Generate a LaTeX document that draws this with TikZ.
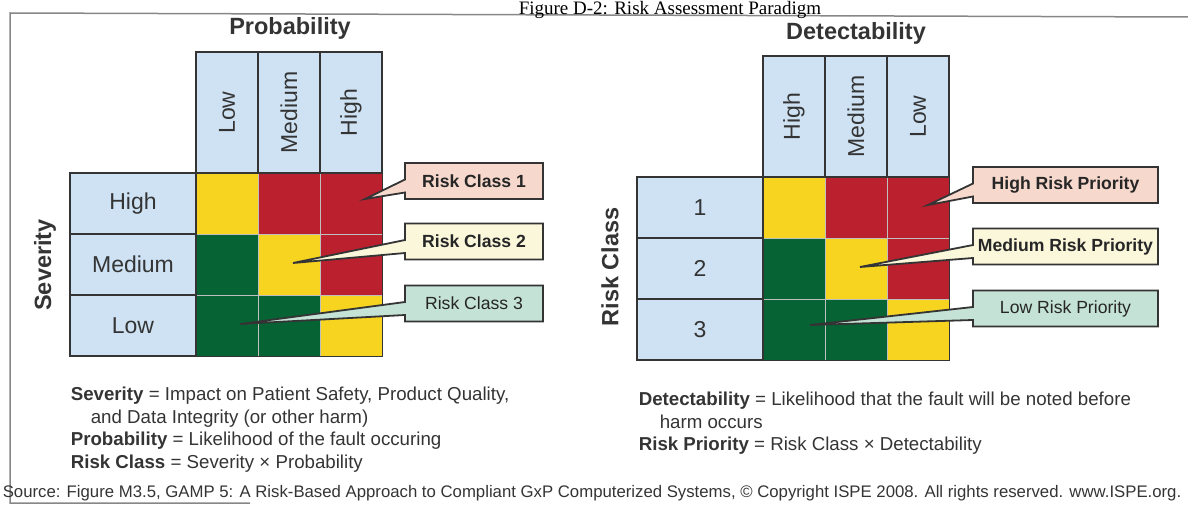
\documentclass[tikz,border=0pt]{standalone}
\usepackage{fontspec}
\setmainfont{Liberation Sans}
\newfontfamily\titlefont{Liberation Serif}
\usetikzlibrary{shapes.callouts}

\begin{document}
\begin{tikzpicture}[x=1pt, y=-1pt, line width=1.6pt,
    colhead/.style={draw=inkgray, fill=headblue, minimum width=62pt, minimum height=121pt,
        inner sep=0pt, text=inkgray, font=\fontsize{23}{26}\selectfont},
    rowhead/.style={draw=inkgray, fill=headblue, minimum width=126pt, minimum height=61pt,
        inner sep=0pt, text=inkgray, font=\fontsize{23}{26}\selectfont},
    cell/.style={fill=#1, draw=black!25, line width=0.6pt, minimum width=62pt,
        minimum height=61pt, inner sep=0pt},
    axislabel/.style={text=inkgray, font=\bfseries\fontsize{23.5}{28}\selectfont},
    tag/.style={rectangle callout, draw=inkgray, fill=#1, line width=1.8pt,
        minimum height=36pt, inner xsep=4pt, callout pointer width=13pt,
        text=black!85, font=\bfseries\fontsize{17.6}{20}\selectfont},
    note/.style={align=left, anchor=north west, inner sep=0pt, text=inkgray,
        font=\fontsize{18.7}{22.8}\selectfont}]
    % Define colors
    \definecolor{headblue}{RGB}{206,226,243}
    \definecolor{cellyellow}{RGB}{246,212,32}
    \definecolor{cellred}{RGB}{186,32,46}
    \definecolor{cellgreen}{RGB}{6,100,52}
    \definecolor{calloutpink}{RGB}{246,216,204}
    \definecolor{calloutcream}{RGB}{250,247,219}
    \definecolor{calloutteal}{RGB}{196,226,214}
    \definecolor{inkgray}{RGB}{52,52,52}
    \definecolor{framegray}{RGB}{135,135,135}

    \useasboundingbox (0,0) rectangle (1188,508);

    % frame and title
    \draw[framegray, line width=1.5pt] (1188,17) -- (10,13) -- (10,503) -- (250,503);
    \node[anchor=base, font=\titlefont\fontsize{19}{22}\selectfont] (title) at (670,14.5)
        {Figure D-2: Risk Assessment Paradigm};

    % risk class matrix
    \begin{scope}
        \node[axislabel] (prob) at (290,28) {Probability};
        \node[axislabel, rotate=90] (sev) at (45,265) {Severity};
        \foreach \lab [count=\i] in {Low,Medium,High}
            \node[colhead] (pc\i) at ({165+62*\i},112.5) {\rotatebox{90}{\lab}};
        \foreach \lab [count=\j] in {High,Medium,Low}
            \node[rowhead] (pr\j) at (133,{142.5+61*\j}) {\lab};
        \foreach \j/\cols in {1/{cellyellow,cellred,cellred},2/{cellgreen,cellyellow,cellred},3/{cellgreen,cellgreen,cellyellow}}
            \foreach \c [count=\i] in \cols
                \node[cell=\c] (p\j\i) at ({165+62*\i},{142.5+61*\j}) {};
        \draw[inkgray] (p11.north west) rectangle (p33.south east);

        \coordinate (pt1) at (365,199);
        \coordinate (pt2) at (293,263);
        \coordinate (pt3) at (240,324);
        \node[tag=calloutpink, minimum width=138pt, callout absolute pointer={(pt1)}] (rc1) at (474,181) {Risk Class 1};
        \node[tag=calloutcream, minimum width=138pt, callout absolute pointer={(pt2)}] (rc2) at (474,241.5) {Risk Class 2};
        \node[tag=calloutteal, minimum width=138pt, font=\fontsize{17.6}{20}\selectfont, callout absolute pointer={(pt3)}] (rc3) at (474,303.5) {Risk Class 3};

        \node[note] (sevnote) at (70,386) {\textbf{Severity} = Impact on Patient Safety, Product Quality,\\
            \hspace*{20pt}and Data Integrity (or other harm)\\
            \textbf{Probability} = Likelihood of the fault occuring\\
            \textbf{Risk Class} = Severity \texttimes{} Probability};
    \end{scope}

    % risk priority matrix
    \begin{scope}[shift={(567,4)}]
        \node[axislabel] (detect) at (289,29) {Detectability};
        \node[axislabel, rotate=90] (rclass) at (43,263) {Risk Class};
        \foreach \lab [count=\i] in {High,Medium,Low}
            \node[colhead] (dc\i) at ({165+62*\i},112.5) {\rotatebox{90}{\lab}};
        \foreach \lab [count=\j] in {1,2,3}
            \node[rowhead] (dr\j) at (133,{142.5+61*\j}) {\lab};
        \foreach \j/\cols in {1/{cellyellow,cellred,cellred},2/{cellgreen,cellyellow,cellred},3/{cellgreen,cellgreen,cellyellow}}
            \foreach \c [count=\i] in \cols
                \node[cell=\c] (d\j\i) at ({165+62*\i},{142.5+61*\j}) {};
        \draw[inkgray] (d11.north west) rectangle (d33.south east);

        \coordinate (dt1) at (361,201);
        \coordinate (dt2) at (293,263);
        \coordinate (dt3) at (243,321);
        \node[tag=calloutpink, minimum width=185pt, callout absolute pointer={(dt1)}] (rp1) at (498.5,181) {High Risk Priority};
        \node[tag=calloutcream, minimum width=185pt, callout absolute pointer={(dt2)}] (rp2) at (498.5,242.5) {Medium Risk Priority};
        \node[tag=calloutteal, minimum width=185pt, font=\fontsize{17.6}{20}\selectfont, callout absolute pointer={(dt3)}] (rp3) at (498.5,304.5) {Low Risk Priority};

        \node[note] (detnote) at (71,387) {\textbf{Detectability} = Likelihood that the fault will be noted before\\
            \hspace*{21pt}harm occurs\\
            \textbf{Risk Priority} = Risk Class \texttimes{} Detectability};
    \end{scope}

    \node[anchor=base west, inner sep=0pt, text=inkgray, font=\fontsize{16.75}{20}\selectfont] (source) at (2,497)
        {Source: Figure M3.5, GAMP 5: A Risk-Based Approach to Compliant GxP Computerized Systems, \textcopyright{} Copyright ISPE 2008. All rights reserved. www.ISPE.org.};
\end{tikzpicture}
\end{document}
